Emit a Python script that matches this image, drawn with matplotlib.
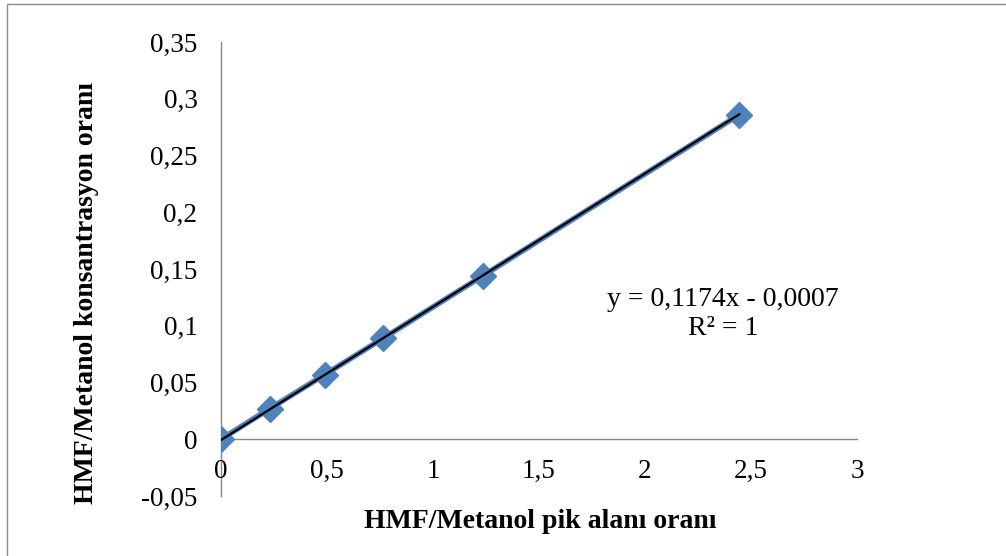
import numpy as np
import matplotlib.pyplot as plt
from matplotlib.patches import Rectangle

# calibration points
pik_alani = [0, 0.23, 0.49, 0.765, 1.235, 2.445]
konsantrasyon = [0, 0.027, 0.057, 0.089, 0.144, 0.286]

# trendline as printed on the chart
slope = 0.1174
intercept = -0.0007
r2 = 1

x_ticks = [0, 0.5, 1, 1.5, 2, 2.5, 3]
y_ticks = [-0.05, 0, 0.05, 0.1, 0.15, 0.2, 0.25, 0.3, 0.35]


def comma(v):
    s = f"{v:g}"
    return s.replace('.', ',')


plt.rcParams['font.family'] = ['Liberation Serif', 'DejaVu Serif']

fig = plt.figure(figsize=(10.06, 5.56), dpi=100)
ax = fig.add_axes([221 / 1006, 1 - 496 / 556, 636 / 1006, 454 / 556])

# outer chart frame
fig.patches.append(Rectangle((7 / 1006, -0.1), 1.2, 1 - 4 / 556 + 0.1,
                             transform=fig.transFigure, fill=False,
                             edgecolor='#8c8c8c', linewidth=1.0))

ax.plot(pik_alani, konsantrasyon, color='#4F81BD', lw=4.0, marker='D',
        markersize=13, markerfacecolor='#4F81BD', markeredgecolor='#4F81BD',
        zorder=3)

xt = np.array([0, max(pik_alani)])
ax.plot(xt, slope * xt + intercept, color='black', lw=1.6, zorder=4)

ax.set_xlim(0, 3)
ax.set_ylim(-0.05, 0.35)
ax.set_xticks(x_ticks)
ax.set_yticks(y_ticks)
ax.set_xticklabels([comma(v) for v in x_ticks])
ax.set_yticklabels([comma(v) for v in y_ticks])

for side in ['top', 'right']:
    ax.spines[side].set_visible(False)
ax.spines['bottom'].set_position(('data', 0))
for side in ['bottom', 'left']:
    ax.spines[side].set_color('#868686')
    ax.spines[side].set_linewidth(1.0)
    ax.spines[side].set_zorder(1)

ax.tick_params(axis='x', length=0, pad=14.5, labelsize=19.5)
ax.tick_params(axis='y', length=0, pad=17, labelsize=19.5)

ax.text(0.789, 0.401, f"y = {comma(slope)}x - {comma(abs(intercept))}\nR² = {r2}",
        transform=ax.transAxes, ha='center', va='center', multialignment='center',
        fontsize=20, linespacing=1.2)

fig.text(540 / 1006, 1 - 522 / 556, 'HMF/Metanol pik alanı oranı',
         ha='center', va='center', fontsize=20, fontweight='bold')
fig.text(87 / 1006, 1 - 293 / 556, 'HMF/Metanol konsantrasyon oranı',
         ha='center', va='center', rotation=90, fontsize=20, fontweight='bold')

fig.savefig('out.png', dpi=100)
